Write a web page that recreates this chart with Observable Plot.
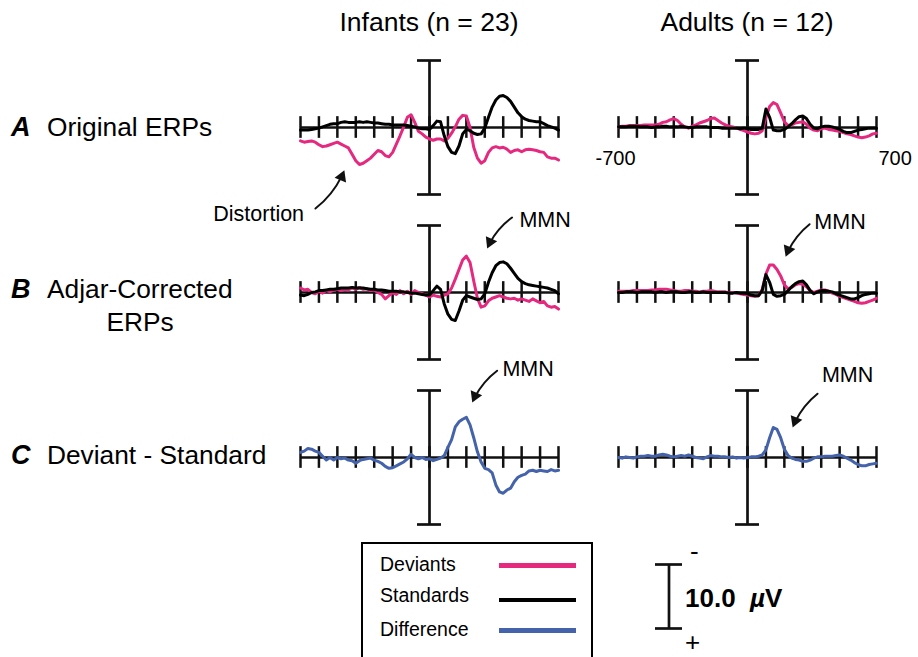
<!DOCTYPE html>
<html><head><meta charset="utf-8">
<script src="https://cdn.jsdelivr.net/npm/d3@7"></script>
<script src="https://cdn.jsdelivr.net/npm/@observablehq/plot@0.6"></script>
<style>
body{margin:0;background:#fff;font-family:"Liberation Sans",Arial,sans-serif;}
#wrap{position:relative;width:918px;height:657px;overflow:hidden;background:#fff;}
.lbl{position:absolute;white-space:nowrap;line-height:1;color:#000;}
</style></head><body><div id="wrap"></div>
<script>
// ---- categories ----
const groups = ["Infants", "Adults"];
const groupTitles = ["Infants (n = 23)", "Adults (n = 12)"];
const rowKeys = ["A", "B", "C"];
const rowLabels = [["Original ERPs"], ["Adjar-Corrected", "ERPs"], ["Deviant - Standard"]];
const seriesNames = ["Deviants", "Standards", "Difference"];
const seriesColors = ["#e4297f", "#000000", "#4463ab"];
const tickTimes = [-700,-600,-500,-400,-300,-200,-100,0,100,200,300,400,500,600,700];
const times = [-700,-680,-660,-640,-620,-600,-580,-560,-540,-520,-500,-480,-460,-440,-420,-400,-380,-360,-340,-320,-300,-280,-260,-240,-220,-200,-180,-160,-140,-120,-100,-80,-60,-40,-20,0,20,40,60,80,100,120,140,160,180,200,220,240,260,280,300,320,340,360,380,400,420,440,460,480,500,520,540,560,580,600,620,640,660,680,700];

// ---- series values (µV, negative up) ----
const infDevA = [2.1,2.3,2.2,2.1,2.3,2.7,3.0,2.9,2.7,2.5,2.3,2.6,2.9,3.2,4.2,5.2,5.8,5.6,5.2,4.8,4.2,3.6,3.8,4.4,4.6,3.9,2.6,1.3,-0.1,-1.6,-2.0,-0.8,0.6,1.0,1.5,
  1.8,2.0,1.8,1.8,2.1,1.7,0.9,-0.1,-1.3,-1.9,-1.8,0.0,3.1,4.8,5.6,5.2,3.9,3.2,3.0,3.2,3.1,3.4,3.9,3.6,3.5,3.8,3.5,3.4,3.5,3.6,3.8,3.9,4.6,4.8,4.8,5.1];
const infStdA = [0.4,0.4,0.4,0.3,0.2,0.1,-0.1,-0.3,-0.5,-0.6,-0.6,-0.8,-0.9,-0.8,-0.8,-0.8,-0.9,-0.8,-0.9,-0.8,-0.7,-0.7,-0.6,-0.5,-0.5,-0.4,-0.4,-0.4,-0.4,-0.3,-0.2,-0.1,0.1,0.2,0.2,
  0.3,-0.3,-1.0,-0.9,1.3,3.0,3.9,4.1,2.9,1.0,0.3,0.5,0.9,1.1,1.0,0.1,-1.6,-3.2,-4.3,-4.9,-5.0,-4.7,-4.1,-3.2,-2.3,-1.7,-1.3,-1.1,-1.0,-0.9,-0.9,-0.6,-0.3,-0.1,0.1,0.4];
const infDevB = [-0.7,-0.4,-0.5,0.0,0.2,-0.2,0.1,-0.3,-0.1,-0.4,-0.5,-0.3,-0.5,-0.4,-0.7,-0.5,-0.8,-0.5,-0.6,-0.3,-0.4,0.0,0.3,1.0,0.5,0.0,0.3,-0.3,0.2,-0.2,0.3,-0.3,0.0,0.2,0.4,
  0.7,0.4,0.6,0.7,0.4,0.2,-0.7,-2.1,-3.6,-5.1,-5.7,-4.7,-1.8,0.9,2.3,2.1,1.3,0.9,0.7,0.5,0.7,0.9,1.0,0.9,1.2,1.0,1.2,1.4,1.0,1.3,1.6,1.4,2.1,2.3,2.2,2.6];
const infStdB = [0.4,0.5,0.3,0.0,-0.1,-0.3,-0.3,-0.4,-0.5,-0.5,-0.6,-0.7,-0.7,-0.7,-0.8,-0.7,-0.7,-0.7,-0.6,-0.5,-0.5,-0.4,-0.4,-0.3,-0.2,-0.2,-0.2,-0.1,-0.1,0.0,0.1,0.1,0.2,0.3,0.4,
  0.4,-0.3,-1.0,-0.5,1.8,3.4,4.2,4.4,2.9,1.2,0.5,0.7,0.9,1.1,1.0,0.2,-1.6,-3.1,-4.2,-4.7,-4.8,-4.5,-3.8,-3.0,-2.2,-1.7,-1.4,-1.2,-1.1,-1.0,-0.9,-0.8,-0.7,-0.5,-0.3,0.2];
const infDiffC = [-0.8,-1.0,-1.4,-1.3,-1.0,-0.8,-0.2,0.4,0.0,0.4,0.0,0.2,0.1,0.4,0.5,0.9,0.5,0.3,0.2,0.1,0.4,0.6,0.9,1.4,1.7,1.6,1.3,1.0,0.7,0.2,-0.5,0.0,0.2,0.0,0.3,
  0.2,0.5,0.3,0.1,-0.3,-1.6,-2.8,-4.8,-5.6,-6.0,-6.3,-5.1,-3.1,-0.9,0.7,1.7,1.9,2.4,4.3,5.4,5.6,5.1,4.8,3.8,3.1,2.8,2.6,2.1,2.0,2.2,2.0,2.1,2.2,1.9,2.1,2.0];
const adDevA = [-0.1,-0.2,-0.2,-0.3,-0.3,-0.3,-0.3,-0.4,-0.4,-0.4,-0.4,-0.5,-0.8,-0.9,-1.2,-1.4,-1.1,-0.5,-0.1,0.1,-0.2,-0.4,-0.7,-0.9,-1.1,-1.4,-1.5,-1.1,-0.7,-0.4,-0.2,-0.1,0.1,0.3,0.5,
  0.7,0.9,1.0,0.9,0.5,-1.6,-3.3,-3.9,-3.6,-2.3,-0.9,-0.3,-0.4,-0.7,-0.8,-0.9,-0.5,0.1,0.4,0.5,0.2,0.1,0.3,0.4,0.5,0.6,0.8,1.0,1.1,1.3,1.5,1.6,1.5,1.3,1.0,0.9];
const adStdA = [-0.1,-0.1,-0.1,-0.2,-0.2,-0.2,-0.1,-0.1,-0.1,0.0,-0.1,-0.1,-0.2,-0.2,-0.1,-0.1,-0.1,-0.2,-0.1,0.0,0.0,-0.1,-0.1,-0.1,-0.1,0.0,0.0,0.0,0.1,0.1,0.1,0.1,0.1,0.2,0.1,
  0.2,0.3,0.3,0.3,0.1,-2.9,-1.6,0.4,0.5,0.5,0.3,-0.1,-0.6,-1.2,-1.7,-1.8,-1.4,-0.5,0.1,0.2,-0.1,-0.2,-0.2,-0.1,0.1,0.3,0.6,0.8,0.8,0.6,0.4,0.3,0.2,0.1,0.1,0.1];
const adDevB = [-0.2,-0.2,-0.2,-0.2,-0.3,-0.3,-0.3,-0.3,-0.3,-0.4,-0.4,-0.5,-0.5,-0.5,-0.4,-0.3,-0.2,-0.2,-0.3,-0.3,-0.2,-0.2,-0.1,-0.2,-0.2,-0.3,-0.2,-0.1,-0.1,-0.1,0.1,0.0,0.1,0.2,0.3,
  0.4,0.5,0.6,0.5,-0.5,-2.9,-4.3,-4.3,-3.6,-2.6,-1.2,-0.6,-0.8,-1.2,-1.4,-1.3,-0.9,-0.3,0.0,-0.2,-0.4,-0.4,-0.2,0.1,0.3,0.6,0.8,1.0,1.2,1.4,1.6,1.7,1.6,1.4,1.2,0.9];
const adStdB = [0.0,0.0,-0.1,-0.1,-0.1,0.0,-0.1,-0.1,-0.1,-0.1,0.0,-0.1,-0.1,0.0,-0.1,-0.1,-0.1,0.0,0.0,-0.1,-0.1,0.0,0.0,-0.1,0.0,0.0,0.0,0.0,0.0,0.0,0.1,0.1,0.0,0.1,0.1,
  0.2,0.4,0.5,0.5,-0.3,-2.8,-1.6,0.3,0.6,0.5,0.3,-0.3,-0.9,-1.4,-1.7,-1.8,-1.2,-0.3,0.2,-0.1,-0.3,-0.3,-0.2,-0.1,0.2,0.4,0.6,0.8,1.0,1.0,0.8,0.5,0.3,0.2,0.1,0.1];
const adDiffC = [0.0,0.1,-0.1,0.0,0.1,-0.1,-0.2,-0.2,-0.3,-0.2,-0.2,-0.4,-0.5,-0.4,-0.2,-0.1,-0.2,-0.3,-0.2,-0.4,-0.2,0.0,0.1,0.2,-0.1,-0.3,-0.2,-0.2,-0.1,-0.1,0.0,-0.1,0.1,0.0,0.1,
  0.0,-0.1,-0.1,-0.2,-0.4,-1.2,-3.1,-4.7,-4.4,-3.1,-1.3,-0.3,0.1,0.3,0.4,0.6,0.6,0.4,0.1,-0.1,-0.1,-0.2,-0.2,-0.2,-0.3,-0.4,-0.2,0.1,0.4,0.8,1.1,1.3,1.3,1.1,1.0,0.9];

// ---- annotations (time ms, µV) ----
const noteText  = ["Distortion", "MMN", "MMN", "MMN", "MMN"];
const noteGroup = ["Infants", "Infants", "Adults", "Infants", "Adults"];
const noteRow   = ["A", "B", "B", "C", "C"];
const noteT  = [-927, 627, 502, 535, 543];
const noteV  = [13.5, -11.3, -11.1, -13.8, -12.9];
const tailT  = [-619, 448, 337, 367, 380];
const tailV  = [12.7, -11.75, -10.7, -13.6, -10.0];
const headT  = [-462, 313, 207, 232, 245];
const headV  = [6.7, -6.9, -5.6, -8.6, -4.7];
const rangeLabels = ["-700", "700"];

// ---- layout constants ----
const VMAX = 10.5;
const W = 918, H = 657, ML = 300, MR = 41, MT = 60, MB = 133;
const PADX = 0.1884, PADY = 0.18788;
const bandW = (W - ML - MR) * (1 - PADX) / (2 - PADX);
const bandH = (H - MT - MB) * (1 - PADY) / (3 - PADY);
const pxPerMs = bandW / 1400, pxPerUV = bandH / (2 * VMAX);
const BEND = -15, HEAD_R = 4.6;
const headH = 3 * Math.sqrt(Math.PI * HEAD_R * HEAD_R / (3 * Math.sqrt(3)));
const ink = "#111";
const font = "Liberation Sans, Arial, sans-serif";

// ---- build tables ----
const traces = [
  ["Infants","A","Deviants",infDevA], ["Infants","A","Standards",infStdA],
  ["Infants","B","Deviants",infDevB], ["Infants","B","Standards",infStdB],
  ["Infants","C","Difference",infDiffC],
  ["Adults","A","Deviants",adDevA], ["Adults","A","Standards",adStdA],
  ["Adults","B","Deviants",adDevB], ["Adults","B","Standards",adStdB],
  ["Adults","C","Difference",adDiffC]
];
const table = traces.flatMap(([g, r, s, vals]) => times.map((t, i) => ({t, v: vals[i], group: g, row: r, series: s})));
const notes = noteText.map((text, i) => {
  const dxp = (headT[i] - tailT[i]) * pxPerMs, dyp = (headV[i] - tailV[i]) * pxPerUV;
  const ang = Math.atan2(dyp, dxp) + BEND * Math.PI / 180;
  const back = headH * 2 / 3;
  return {text, group: noteGroup[i], row: noteRow[i], t: noteT[i], v: noteV[i],
    t1: tailT[i], v1: tailV[i], t2: headT[i], v2: headV[i],
    hc: headT[i] - back * Math.cos(ang) / pxPerMs, hv: headV[i] - back * Math.sin(ang) / pxPerUV,
    rot: ang * 180 / Math.PI + 90};
});
const ends = [{text: rangeLabels[0], t: -700}, {text: rangeLabels[1], t: 700}];

const chart = Plot.plot({
  width: W, height: H,
  marginTop: MT, marginBottom: MB, marginLeft: ML, marginRight: MR,
  style: {fontFamily: font, background: "transparent", overflow: "visible"},
  fx: {domain: groups, axis: null, paddingInner: PADX, paddingOuter: 0},
  fy: {domain: rowKeys, axis: null, paddingInner: PADY, paddingOuter: 0},
  x: {domain: [-700, 700], axis: null},
  y: {domain: [-VMAX, VMAX], reverse: true, axis: null},
  color: {domain: seriesNames, range: seriesColors},
  marks: [
    Plot.ruleY([0], {stroke: ink, strokeWidth: 2.7}),
    Plot.ruleX(tickTimes, {y1: -1.7, y2: 1.7, stroke: ink, strokeWidth: 2.5}),
    Plot.ruleX([0], {y1: -VMAX, y2: VMAX, stroke: ink, strokeWidth: 2.7}),
    Plot.ruleY([-VMAX, VMAX], {x1: -65, x2: 65, stroke: ink, strokeWidth: 2.7}),
    Plot.line(table, {x: "t", y: "v", z: "series", stroke: "series", fx: "group", fy: "row", strokeWidth: 3, strokeLinejoin: "round"}),
    Plot.arrow(notes, {x1: "t1", y1: "v1", x2: "t2", y2: "v2", fx: "group", fy: "row", bend: BEND, headLength: 0, insetEnd: headH * 0.6, stroke: ink, strokeWidth: 2}),
    Plot.dot(notes, {x: "hc", y: "hv", rotate: "rot", symbol: "triangle", r: HEAD_R, fill: ink, stroke: "none", fx: "group", fy: "row"}),
    Plot.text(notes, {x: "t", y: "v", text: "text", fx: "group", fy: "row", fontSize: 21.5, fill: "#000"}),
    Plot.text(ends.slice(0, 1), {x: "t", y: 0, text: "text", dy: 31, dx: 17, textAnchor: "end", fontSize: 20, fill: "#000", fx: () => "Adults", fy: () => "A"}),
    Plot.text(ends.slice(1), {x: "t", y: 0, text: "text", dy: 31, dx: 2, textAnchor: "start", fontSize: 20, fill: "#000", fx: () => "Adults", fy: () => "A"})
  ]
});
const wrap = document.getElementById("wrap");
chart.style.position = "absolute"; chart.style.left = "0px"; chart.style.top = "0px";
wrap.appendChild(chart);

function place(html, x, y, anchor, css) {
  const d = document.createElement("div");
  d.className = "lbl";
  d.innerHTML = html;
  d.style.left = x + "px"; d.style.top = y + "px";
  const tx = anchor === "middle" ? "-50%" : anchor === "end" ? "-100%" : "0";
  d.style.transform = `translate(${tx},-50%)`;
  Object.assign(d.style, css || {});
  wrap.appendChild(d);
  return d;
}

// column titles
place(groupTitles[0], 429, 22, "middle", {fontSize: "26.5px"});
place(groupTitles[1], 747, 22, "middle", {fontSize: "26.5px"});

// row labels
const rowY = [127, 289, 455];
rowKeys.forEach((k, i) => {
  place(k, 11, rowY[i], "start", {fontSize: "27px", fontWeight: "bold", fontStyle: "italic"});
  place(rowLabels[i][0], 47, rowY[i], "start", {fontSize: "26.3px"});
  if (rowLabels[i][1]) place(rowLabels[i][1], 140, rowY[i] + 33, "middle", {fontSize: "26.3px"});
});

// legend box
const box = document.createElement("div");
Object.assign(box.style, {position: "absolute", left: "361px", top: "542px", width: "232px", height: "130px", border: "2px solid #000", boxSizing: "border-box"});
wrap.appendChild(box);
const legY = [565, 596, 630];
const legLineY = [565, 600, 630];
const legThick = [5, 4, 5];
seriesNames.forEach((s, i) => {
  place(s, 380, legY[i], "start", {fontSize: "19.5px"});
  const ln = document.createElement("div");
  Object.assign(ln.style, {position: "absolute", left: "499px", width: "77px", top: (legLineY[i] - legThick[i] / 2) + "px", height: legThick[i] + "px", background: seriesColors[i]});
  wrap.appendChild(ln);
});

// scale bar (10 µV) drawn with the same px-per-µV as the panels
const barH = 10 * pxPerUV;
const bar = Plot.plot({
  width: 47, height: Math.round(barH) + 20, margin: 10,
  style: {background: "transparent", overflow: "visible"},
  x: {domain: [-1, 1], axis: null},
  y: {domain: [-5, 5], reverse: true, axis: null},
  marks: [
    Plot.ruleX([0], {y1: -5, y2: 5, stroke: ink, strokeWidth: 2.7}),
    Plot.ruleY([-5, 5], {x1: -1, x2: 1, stroke: ink, strokeWidth: 2.7})
  ]
});
Object.assign(bar.style, {position: "absolute", left: (668 - 23.5) + "px", top: (564 - 10) + "px"});
wrap.appendChild(bar);
place("-", 690, 551, "start", {fontSize: "26px"});
place("+", 685, 642, "start", {fontSize: "26px"});
place("10.0&nbsp;&nbsp;<i>µ</i>V", 685, 598, "start", {fontSize: "26px", fontWeight: "bold"});
</script></body></html>
